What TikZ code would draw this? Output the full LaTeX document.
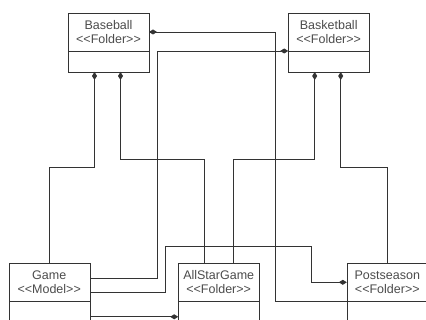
\documentclass[tikz,border=0pt]{standalone}
\usepackage{fontspec}
\setmainfont{Liberation Sans}
\usetikzlibrary{positioning, arrows.meta}
% stereotype brackets, kept apart so no guillemets appear
\newcommand{\umlst}[1]{<\kern0pt<#1>\kern0pt>}

\begin{document}
\begin{tikzpicture}[x=1pt, y=-1pt,
    box/.style={rectangle, draw=black!80, fill=white, minimum width=81pt, minimum height=38pt,
      inner sep=0pt, outer sep=0pt, align=center, font=\fontsize{12.5}{13.6}\selectfont, text=black!70},
    slot/.style={rectangle, draw=black!80, fill=white, minimum width=81pt, minimum height=21pt,
      inner sep=0pt, outer sep=0pt},
    has/.style={{Diamond[length=8pt, width=5pt]}-, black!80, line width=0.9pt}
  ]
  \clip (0,0) rectangle (426,320);

  % Folders at the top
  \node[box] (baseball) at (108.5, 32) {Baseball\\\umlst{Folder}};
  \node[slot, below=0pt of baseball] (baseballslot) {};
  \node[box] (basketball) at (328.7, 32) {Basketball\\\umlst{Folder}};
  \node[slot, below=0pt of basketball] (basketballslot) {};

  % Model and folders at the bottom
  \node[box] (game) at (49.2, 282.3) {Game\\\umlst{Model}};
  \node[slot, below=0pt of game] (gameslot) {};
  \node[box] (allstar) at (218.7, 282.3) {AllStarGame\\\umlst{Folder}};
  \node[slot, below=0pt of allstar] (allstarslot) {};
  \node[box] (postseason) at (387.3, 282.3) {Postseason\\\umlst{Folder}};
  \node[slot, below=0pt of postseason] (postseasonslot) {};

  % Baseball compositions
  \draw[has] ([xshift=-14pt]baseballslot.south) -- ++(0,95) -| (game.north);
  \draw[has] ([xshift=12pt]baseballslot.south) -- ++(0,87) -| ([xshift=-14.5pt]allstar.north);
  \draw[has] (baseball.east) -| (275,301.3) -- (postseason.south west);

  % Basketball compositions
  \draw[has] (basketball.south west) -| (157,278) -- ([yshift=4.3pt]game.east);
  \draw[has] ([xshift=-14pt]basketballslot.south) -- ++(0,87) -| ([xshift=14.5pt]allstar.north);
  \draw[has] ([xshift=12pt]basketballslot.south) -- ++(0,95) -| (postseason.north);

  % Game inside the lower folders
  \draw[has] (postseason.west) -| (311,246) -| (165,292) -- ([yshift=-9.7pt]game.east);
  \draw[has] ([yshift=-5pt]allstarslot.west) -- ([yshift=-5pt]gameslot.east);
\end{tikzpicture}
\end{document}
